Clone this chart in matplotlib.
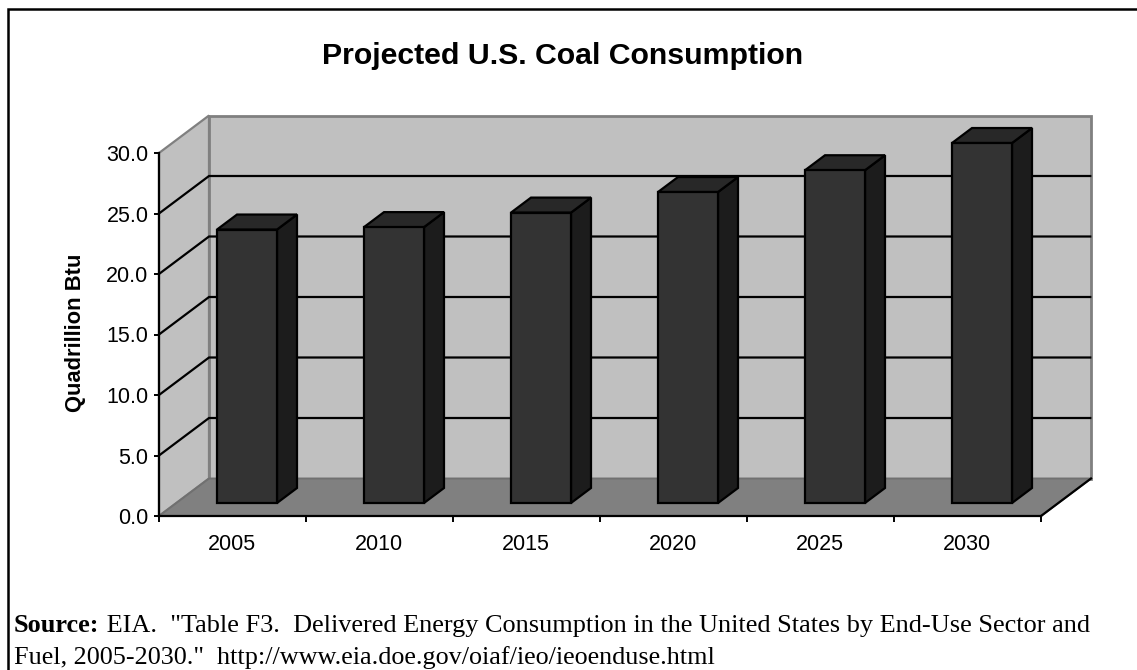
import matplotlib
matplotlib.use('Agg')
import matplotlib.pyplot as plt
from matplotlib.lines import Line2D
from matplotlib.patches import Polygon, Rectangle

years = ['2005', '2010', '2015', '2020', '2025', '2030']
coal = [22.6, 22.8, 24.0, 25.7, 27.5, 29.75]
y_ticks = [0, 5, 10, 15, 20, 25, 30]

W, H = 1137, 670
fig = plt.figure(figsize=(W / 100, H / 100), dpi=100, facecolor='white')

# the border only shows on the top and left, the rest is cropped away
fig.add_artist(Line2D([1, 7.5 / W, 7.5 / W], [1 - 8.5 / H, 1 - 8.5 / H, 0], transform=fig.transFigure,
                      color='black', lw=1.8, solid_joinstyle='miter'))

# front plane of the 3d box, in pixels
left, right, top, bottom = 159, 1041, 153, 516
ax = fig.add_axes([left / W, 1 - bottom / H, (right - left) / W, (bottom - top) / H])
ax.set_xlim(0, 6)
ax.set_ylim(0, 30)
ax.patch.set_visible(False)

# depth of the box and of the bars, as data units
px_x = 6 / (right - left)
px_y = 30 / (bottom - top)
dx, dy = 50 * px_x, 37.5 * px_y
bar_dx, bar_dy = 20 * px_x, 15 * px_y
bar_w = 60 * px_x
bar_x0 = 58 * px_x
bar_y0 = 13 * px_y

GRAY = '#c0c0c0'
EDGE = '#808080'

# side wall, back wall, floor
ax.add_patch(Polygon([(0, 0), (dx, dy), (dx, 30 + dy), (0, 30)], fc=GRAY, ec=EDGE, lw=1.6,
                     clip_on=False, zorder=1))
ax.add_patch(Polygon([(dx, dy), (6 + dx, dy), (6 + dx, 30 + dy), (dx, 30 + dy)], fc=GRAY, ec=EDGE, lw=2,
                     clip_on=False, zorder=1))
ax.add_patch(Polygon([(0, 0), (dx, dy), (6 + dx, dy), (6, 0)], fc=EDGE, ec='#707070', lw=1.4,
                     clip_on=False, zorder=2))
ax.plot([6, 6 + dx], [0, dy], color='black', lw=1.6, clip_on=False, zorder=3)

# grid lines run along the side wall and the back wall
for v in y_ticks[1:-1]:
    ax.plot([0, dx, 6 + dx - 0.005], [v, v + dy, v + dy], color='black', lw=1.6, clip_on=False, zorder=3,
            solid_joinstyle='miter')

# bars
for i, v in enumerate(coal):
    x0 = i + bar_x0
    y0 = bar_y0
    x1 = x0 + bar_w
    y1 = y0 + v
    ax.add_patch(Polygon([(x1, y0), (x1 + bar_dx, y0 + bar_dy), (x1 + bar_dx, y1 + bar_dy), (x1, y1)],
                         fc='#1c1c1c', ec='black', lw=1.6, clip_on=False, zorder=5))
    ax.add_patch(Polygon([(x0, y1), (x0 + bar_dx, y1 + bar_dy), (x1 + bar_dx, y1 + bar_dy), (x1, y1)],
                         fc='#282828', ec='black', lw=1.6, clip_on=False, zorder=5))
    ax.add_patch(Rectangle((x0, y0), bar_w, v, fc='#333333', ec='black', lw=1.6, clip_on=False, zorder=6))

for s in ['top', 'right']:
    ax.spines[s].set_visible(False)
for s in ['left', 'bottom']:
    ax.spines[s].set_linewidth(1.6)
    ax.spines[s].set_zorder(7)

ax.set_yticks(y_ticks)
ax.set_yticklabels([f'{v:.1f}' for v in y_ticks], family='Liberation Sans', fontsize=15.5)
ax.set_xticks(range(7))
ax.set_xticklabels([])
ax.set_xticks([i + 0.495 for i in range(6)], minor=True)
ax.set_xticklabels(years, minor=True, family='Liberation Sans', fontsize=15.5)
ax.tick_params(axis='x', which='minor', length=0, pad=13)
ax.tick_params(axis='x', which='major', length=4, width=1.4, direction='out')
ax.tick_params(axis='y', length=3.5, width=1.4, direction='out', pad=4)

fig.text(563 / W, 1 - 64 / H, 'Projected U.S. Coal Consumption', ha='center', va='baseline',
         family='Liberation Sans', fontweight='bold', fontsize=21.8)
fig.text(75 / W, 1 - 333 / H, 'Quadrillion Btu', ha='center', va='center', rotation=90,
         family='Liberation Sans', fontweight='bold', fontsize=15.8)

src = fig.text(14 / W, 1 - 632 / H, 'Source:', family='Liberation Serif', fontweight='bold',
               fontsize=18.9, ha='left', va='baseline')
ax.annotate(' EIA.  "Table F3.  Delivered Energy Consumption in the United States by End-Use Sector and',
            xy=(1, 0), xycoords=src, va='bottom', ha='left', family='Liberation Serif', fontsize=18.9,
            annotation_clip=False)
fig.text(14 / W, 1 - 664 / H, 'Fuel, 2005-2030."  http://www.eia.doe.gov/oiaf/ieo/ieoenduse.html',
         family='Liberation Serif', fontsize=18.8, ha='left', va='baseline')

fig.savefig('out.png', dpi=100)
